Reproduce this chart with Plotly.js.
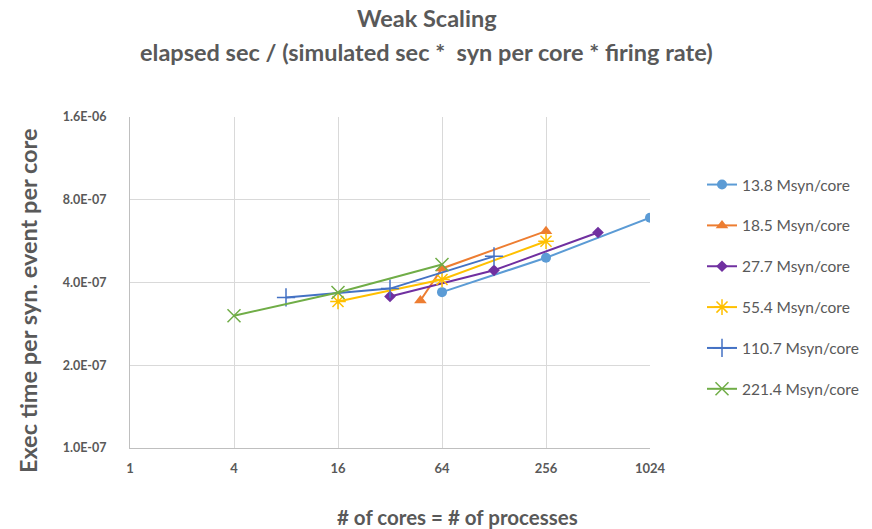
<!DOCTYPE html>
<html>
<head>
<meta charset="utf-8">
<script src="https://cdn.plot.ly/plotly-3.0.1.min.js"></script>
<style>
  html, body { margin: 0; padding: 0; background: #ffffff; }
  #chart { width: 872px; height: 529px; }
</style>
</head>
<body>
<div id="chart"></div>
<script>
// Weak scaling: normalised execution time per synaptic event per core
const seriesNames = [
  "13.8 Msyn/core", "18.5 Msyn/core", "27.7 Msyn/core",
  "55.4 Msyn/core", "110.7 Msyn/core", "221.4 Msyn/core"
];

const cores_13_8 = [64, 256, 1024];
const time_13_8 = [3.69e-7, 4.92e-7, 6.88e-7];

const cores_18_5 = [48, 64, 256];
const time_18_5 = [3.44e-7, 4.50e-7, 6.15e-7];

const cores_27_7 = [32, 128, 512];
const time_27_7 = [3.56e-7, 4.43e-7, 6.08e-7];

const cores_55_4 = [16, 64, 256];
const time_55_4 = [3.41e-7, 4.10e-7, 5.65e-7];

const cores_110_7 = [8, 32, 128];
const time_110_7 = [3.53e-7, 3.80e-7, 4.98e-7];

const cores_221_4 = [4, 16, 64];
const time_221_4 = [3.03e-7, 3.68e-7, 4.65e-7];

const xTickVals = [1, 4, 16, 64, 256, 1024];
const xTickText = ["1", "4", "16", "64", "256", "1024"];
const yTickVals = [1.0e-7, 2.0e-7, 4.0e-7, 8.0e-7, 1.6e-6];
const yTickText = ["1.0E-07", "2.0E-07", "4.0E-07", "8.0E-07", "1.6E-06"];

const xs = [cores_13_8, cores_18_5, cores_27_7, cores_55_4, cores_110_7, cores_221_4];
const ys = [time_13_8, time_18_5, time_27_7, time_55_4, time_110_7, time_221_4];

const styles = [
  { color: "#5B9BD5", symbol: "circle", size: 10, lw: 0 },
  { color: "#ED7D31", symbol: "triangle-up", size: 11, lw: 0 },
  { color: "#7030A0", symbol: "diamond", size: 9, lw: 0 },
  { color: "#FFC000", symbol: "asterisk-open", size: 13, lw: 1.5 },
  { color: "#4472C4", symbol: "cross-thin-open", size: 13, lw: 1.5 },
  { color: "#70AD47", symbol: "x-thin-open", size: 13, lw: 1.5 }
];

const textColor = "#595959";
const fontFam = "Lato, 'Open Sans', sans-serif";

const traces = seriesNames.map((name, i) => ({
  type: "scatter",
  mode: "lines+markers",
  name: name,
  legendgroup: "g" + i,
  x: xs[i],
  y: ys[i],
  line: { color: styles[i].color, width: 2 },
  marker: {
    color: styles[i].color,
    symbol: styles[i].symbol,
    size: styles[i].size,
    line: { color: styles[i].color, width: styles[i].lw }
  }
}));

const layout = {
  width: 872,
  height: 529,
  paper_bgcolor: "#ffffff",
  plot_bgcolor: "#ffffff",
  margin: { l: 130, r: 222, t: 117, b: 81, autoexpand: false },
  font: { family: fontFam, color: textColor },
  xaxis: {
    type: "log",
    range: [0, Math.log10(1024)],
    tickvals: xTickVals,
    ticktext: xTickText,
    ticks: "",
    ticklabelstandoff: 8,
    tickfont: { family: fontFam, size: 13, color: textColor, weight: "bold" },
    showgrid: true,
    gridcolor: "#D9D9D9",
    gridwidth: 1,
    showline: true,
    linecolor: "#BFBFBF",
    linewidth: 1,
    zeroline: false
  },
  yaxis: {
    type: "log",
    range: [-7, Math.log10(1.6e-6)],
    tickvals: yTickVals,
    ticktext: yTickText,
    ticks: "",
    ticklabelstandoff: 20,
    tickfont: { family: fontFam, size: 12.5, color: textColor, weight: "bold" },
    showgrid: true,
    gridcolor: "#D9D9D9",
    gridwidth: 1,
    showline: true,
    linecolor: "#BFBFBF",
    linewidth: 1,
    zeroline: false
  },
  legend: {
    x: 1.1,
    xanchor: "left",
    xref: "paper",
    y: 0.846,
    yanchor: "top",
    font: { family: fontFam, size: 15.5, color: textColor },
    tracegroupgap: 17.7,
    itemwidth: 30,
    bgcolor: "rgba(0,0,0,0)"
  },
  annotations: [
    {
      text: "<b>Weak Scaling</b>",
      xref: "paper", yref: "paper",
      x: 0.571, y: 1.299,
      xanchor: "center", yanchor: "middle",
      showarrow: false,
      font: { family: fontFam, size: 23.5, color: textColor }
    },
    {
      text: "<b>elapsed sec / (simulated sec *  syn per core * firing rate)</b>",
      xref: "paper", yref: "paper",
      x: 0.571, y: 1.196,
      xanchor: "center", yanchor: "middle",
      showarrow: false,
      font: { family: fontFam, size: 23.5, color: textColor }
    },
    {
      text: "<b>Exec time per syn. event per core</b>",
      xref: "paper", yref: "paper",
      x: -0.196, y: 0.444,
      xanchor: "center", yanchor: "middle",
      textangle: -90,
      showarrow: false,
      font: { family: fontFam, size: 23.5, color: textColor }
    },
    {
      text: "<b># of cores = # of processes</b>",
      xref: "paper", yref: "paper",
      x: 0.629, y: -0.208,
      xanchor: "center", yanchor: "middle",
      showarrow: false,
      font: { family: fontFam, size: 20.5, color: textColor }
    }
  ],
  showlegend: true
};

Plotly.newPlot("chart", traces, layout, { displayModeBar: false, staticPlot: true });
</script>
</body>
</html>
